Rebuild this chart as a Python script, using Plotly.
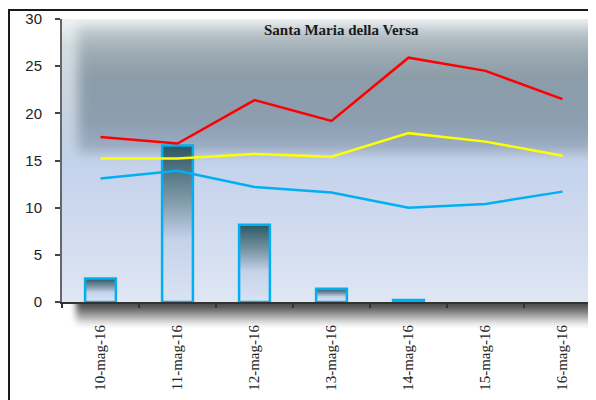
import base64

import plotly.graph_objects as go

# Data
dates = ["10-mag-16", "11-mag-16", "12-mag-16", "13-mag-16", "14-mag-16", "15-mag-16", "16-mag-16"]
rain = [2.5, 16.6, 8.2, 1.4, 0.2, 0.0, 0.0]
t_max = [17.5, 16.8, 21.4, 19.2, 25.9, 24.5, 21.5]
t_mean = [15.2, 15.2, 15.7, 15.4, 17.9, 17.0, 15.5]
t_min = [13.1, 13.9, 12.2, 11.6, 10.0, 10.4, 11.7]

BLUE = "#00b0f0"
BAR_WIDTH = 0.4
X_RANGE = [-0.5, 6.435]

# page body adds 8px, so the figure is sized to the visible window
W, H = 588, 392
PLOT_L, PLOT_T, PLOT_B = 54, 11, 98
PW, PH = W - PLOT_L, H - PLOT_T - PLOT_B


def svg_uri(svg):
    return "data:image/svg+xml;base64," + base64.b64encode(svg.encode()).decode()


# Plot-area background: light blue base with a blurred dark band on top
BG_SVG = """<svg xmlns="http://www.w3.org/2000/svg" width="534" height="283" viewBox="0 0 534 283" preserveAspectRatio="none">
<defs>
<linearGradient id="base" x1="0" y1="0" x2="0" y2="1">
<stop offset="0" stop-color="#eef2f3"/><stop offset="0.1" stop-color="#d3dce2"/>
<stop offset="0.3" stop-color="#c9d4df"/><stop offset="0.47" stop-color="#c4d2e8"/>
<stop offset="0.52" stop-color="#c4d2ec"/><stop offset="1" stop-color="#dfe6f3"/>
</linearGradient>
<linearGradient id="band" x1="0" y1="0" x2="0" y2="1">
<stop offset="0" stop-color="#c3cbcf"/><stop offset="0.2" stop-color="#9dabb3"/>
<stop offset="0.4" stop-color="#8b9ca8"/><stop offset="0.75" stop-color="#8c9eb0"/>
<stop offset="1" stop-color="#9eafc6"/>
</linearGradient>
<filter id="blur" filterUnits="userSpaceOnUse" x="-50" y="-50" width="700" height="400">
<feGaussianBlur stdDeviation="6"/>
</filter>
</defs>
<rect x="0" y="0" width="534" height="283" fill="url(#base)"/>
<rect x="16" y="8" width="570" height="126" fill="url(#band)" filter="url(#blur)"/>
</svg>"""

# Soft shadow under the category axis
SHADOW_SVG = """<svg xmlns="http://www.w3.org/2000/svg" width="540" height="26" viewBox="0 0 540 26" preserveAspectRatio="none">
<defs>
<linearGradient id="sh" x1="0" y1="0" x2="0" y2="1">
<stop offset="0" stop-color="#333333"/><stop offset="0.4" stop-color="#4a4a4a"/>
<stop offset="0.72" stop-color="#a8a8a8"/><stop offset="1" stop-color="#ffffff"/>
</linearGradient>
<filter id="b" filterUnits="userSpaceOnUse" x="-50" y="-50" width="700" height="130">
<feGaussianBlur stdDeviation="3"/>
</filter>
</defs>
<rect x="12" y="-10" width="600" height="34" fill="url(#sh)" filter="url(#b)"/>
</svg>"""

fig = go.Figure()

# Rain bars, each with its own vertical gradient
for i, v in enumerate(rain):
    if v <= 0:
        continue
    x0, x1 = i - BAR_WIDTH / 2, i + BAR_WIDTH / 2
    fig.add_trace(
        go.Scatter(
            x=[x0, x0, x1, x1, x0],
            y=[0, v, v, 0, 0],
            mode="lines",
            fill="toself",
            fillgradient=dict(
                type="vertical",
                colorscale=[
                    [0, "#dbe3f2"],
                    [0.4, "#c4d2ea"],
                    [0.65, "#7f99a8"],
                    [1, "#2c5663"],
                ],
            ),
            line=dict(color=BLUE, width=2.5),
            hoverinfo="skip",
            showlegend=False,
        )
    )

# Temperature lines on the category axis
for vals, col in [(t_max, "#ff0000"), (t_mean, "#ffff00"), (t_min, BLUE)]:
    fig.add_trace(
        go.Scatter(
            x=dates,
            y=vals,
            xaxis="x2",
            mode="lines",
            line=dict(color=col, width=2.5),
            showlegend=False,
        )
    )

fig.add_layout_image(
    source=svg_uri(BG_SVG), xref="paper", yref="paper", x=0, y=1,
    sizex=1, sizey=1, sizing="stretch", layer="below",
)
fig.add_layout_image(
    source=svg_uri(SHADOW_SVG), xref="paper", yref="paper", x=2 / PW, y=0,
    sizex=540 / PW, sizey=26 / PH, sizing="stretch", layer="below",
    xanchor="left", yanchor="top",
)

# Outer chart frame
fig.add_shape(
    type="rect", xref="paper", yref="paper",
    x0=(1 - PLOT_L) / PW, x1=1.1, y0=-0.5, y1=(PH + PLOT_T - 2) / PH,
    line=dict(color="#1a1a1a", width=2), layer="below",
)

fig.add_annotation(
    text="<b>Santa Maria della Versa</b>",
    xref="paper", yref="paper", x=279 / PW, y=272 / PH,
    showarrow=False, xanchor="center", yanchor="middle",
    font=dict(family="Liberation Serif", size=15, color="#1a1a1a"),
)

fig.update_layout(
    width=W,
    height=H,
    margin=dict(l=PLOT_L, r=0, t=PLOT_T, b=PLOT_B),
    paper_bgcolor="white",
    plot_bgcolor="rgba(0,0,0,0)",
    showlegend=False,
    xaxis=dict(
        range=X_RANGE,
        showline=True,
        linecolor="#333333",
        linewidth=2,
        showgrid=False,
        zeroline=False,
        showticklabels=False,
        ticks="",
    ),
    xaxis2=dict(
        type="category",
        overlaying="x",
        anchor="y",
        side="bottom",
        range=X_RANGE,
        categoryorder="array",
        categoryarray=dates,
        tickson="boundaries",
        ticks="outside",
        ticklen=5,
        tickwidth=2,
        tickcolor="#333333",
        tickangle=-90,
        ticklabelstandoff=19,
        showline=False,
        showgrid=False,
        tickfont=dict(family="Liberation Serif", size=15, color="#222222"),
    ),
    yaxis=dict(
        range=[0, 30],
        dtick=5,
        showline=True,
        linecolor="#666666",
        linewidth=2,
        ticks="outside",
        ticklen=5,
        tickwidth=2,
        tickcolor="#444444",
        showgrid=False,
        zeroline=False,
        ticklabelstandoff=10,
        tickfont=dict(family="Liberation Sans", size=15, color="#222222"),
    ),
)

fig.write_html("out.html")
